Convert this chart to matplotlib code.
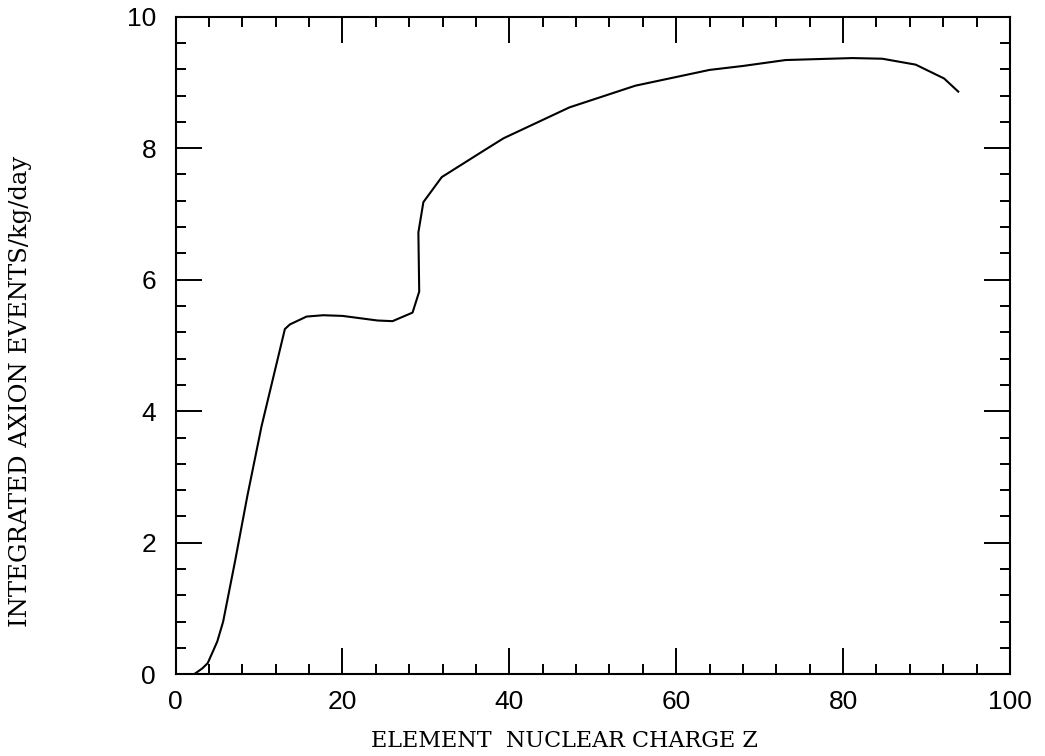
import numpy as np
from matplotlib import pyplot as plt
from matplotlib.ticker import MultipleLocator

# Integrated axion event rate vs element nuclear charge
z = [2.2, 3.2, 3.85, 4.55, 5.0, 5.7, 7.1, 8.6, 10.3, 13.1, 13.7, 15.7, 17.7,
     20.0, 24.2, 26.0, 28.4, 29.2, 29.1, 29.7, 31.9, 36.9, 39.3, 47.2, 55.1,
     64.0, 68.0, 73.1, 81.1, 84.7, 88.7, 92.1, 93.8]
events = [0.0, 0.09, 0.17, 0.37, 0.5, 0.80, 1.70, 2.71, 3.77, 5.25, 5.32, 5.44,
          5.46, 5.45, 5.38, 5.37, 5.50, 5.82, 6.72, 7.18, 7.56, 7.96, 8.15,
          8.62, 8.95, 9.19, 9.25, 9.34, 9.37, 9.36, 9.27, 9.06, 8.86]

xticks = [0, 20, 40, 60, 80, 100]
yticks = [0, 2, 4, 6, 8, 10]

fig = plt.figure(figsize=(10.45, 7.56), dpi=100)
ax = fig.add_axes([0.168, 0.108, 0.7985, 0.87])

ax.plot(z, events, color='black', linewidth=1.5)

ax.set_xlim(0, 100)
ax.set_ylim(0, 10)
ax.set_xticks(xticks)
ax.set_yticks(yticks)
ax.xaxis.set_minor_locator(MultipleLocator(4))
ax.yaxis.set_minor_locator(MultipleLocator(0.4))
ax.tick_params(which='both', direction='in', top=True, right=True,
               color='black', width=1.4)
ax.tick_params(which='major', length=19, labelsize=19)
ax.tick_params(axis='x', which='major', pad=11)
ax.tick_params(axis='y', which='major', pad=14)
ax.tick_params(which='minor', length=7)
for lab in ax.get_xticklabels() + ax.get_yticklabels():
    lab.set_fontfamily('Liberation Sans')
for s in ax.spines.values():
    s.set_linewidth(1.5)

ax.set_xlabel('ELEMENT  NUCLEAR CHARGE Z', fontfamily='DejaVu Serif',
              fontsize=16)
ax.xaxis.set_label_coords(0.466, -0.085)
ax.set_ylabel('INTEGRATED AXION EVENTS/kg/day', fontfamily='DejaVu Serif',
              fontsize=17.5)
ax.yaxis.set_label_coords(-0.172, 0.43)

fig.savefig('out.png', dpi=100)
